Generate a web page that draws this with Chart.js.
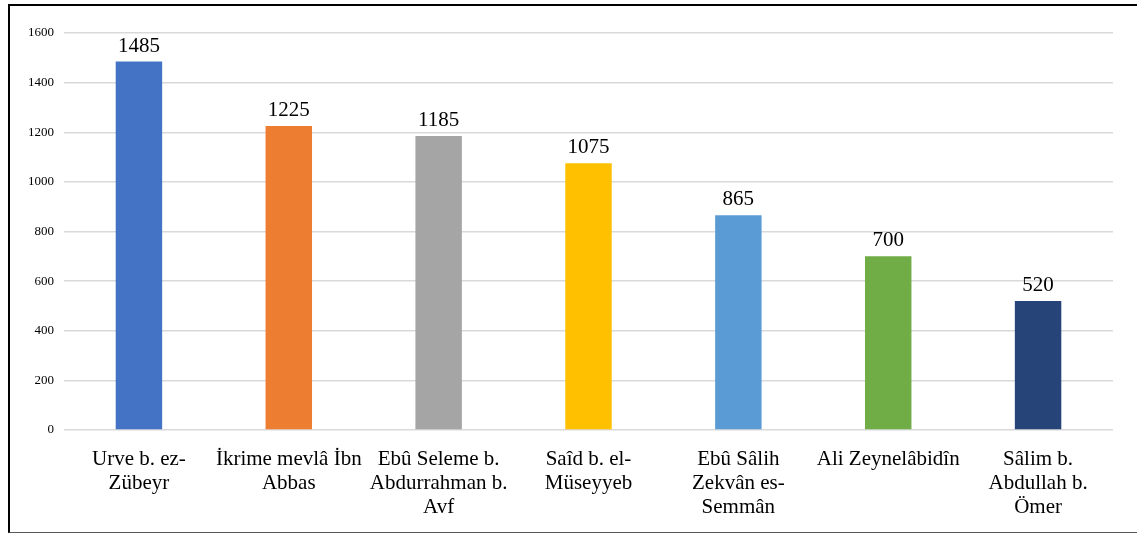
<!DOCTYPE html>
<html>
<head>
<meta charset="utf-8">
<script src="https://cdn.jsdelivr.net/npm/chart.js@4"></script>
<style>
    html, body { margin: 0; padding: 0; background: #fff; }
    #frame {
        position: absolute;
        left: 8px; top: 4px;
        width: 1129px; height: 526px;
        border-top: 2px solid #000;
        border-left: 2px solid #000;
        border-bottom: 1px solid #595959;
    }
    #wrap { position: relative; width: 1127px; height: 526px; }
</style>
</head>
<body>
<div id="frame"><div id="wrap"><canvas id="narratorChart"></canvas></div></div>
<script>
const categories = [
    ['Urve b. ez-', 'Zübeyr'],
    ['İkrime mevlâ İbn', 'Abbas'],
    ['Ebû Seleme b.', 'Abdurrahman b.', 'Avf'],
    ['Saîd b. el-', 'Müseyyeb'],
    ['Ebû Sâlih', 'Zekvân es-', 'Semmân'],
    ['Ali Zeynelâbidîn'],
    ['Sâlim b.', 'Abdullah b.', 'Ömer']
];
const narrationCounts = [1485, 1225, 1185, 1075, 865, 700, 520];
const barColors = ['#4472C4', '#ED7D31', '#A5A5A5', '#FFC000', '#5B9BD5', '#70AD47', '#264478'];

const serif = '"Liberation Serif", "Times New Roman", serif';

// draws the value above each bar
const valueLabels = {
    id: 'valueLabels',
    afterDatasetsDraw(chart) {
        const ctx = chart.ctx;
        const meta = chart.getDatasetMeta(0);
        ctx.save();
        ctx.font = '21px ' + serif;
        ctx.fillStyle = '#000';
        ctx.textAlign = 'center';
        ctx.textBaseline = 'bottom';
        meta.data.forEach((bar, i) => {
            ctx.fillText(chart.data.datasets[0].data[i], bar.x, bar.y - 5);
        });
        ctx.restore();
    }
};

const ctxNarrators = document.getElementById('narratorChart').getContext('2d');
new Chart(ctxNarrators, {
    type: 'bar',
    data: {
        labels: categories,
        datasets: [{
            data: narrationCounts,
            backgroundColor: barColors,
            categoryPercentage: 1,
            barPercentage: 0.31
        }]
    },
    options: {
        responsive: true,
        maintainAspectRatio: false,
        animation: false,
        layout: {
            padding: { top: 27, right: 24, bottom: 0, left: 0 }
        },
        plugins: {
            legend: { display: false },
            tooltip: { enabled: false }
        },
        scales: {
            x: {
                grid: { display: false },
                border: { display: false },
                afterFit: scale => { scale.height = 102; },
                ticks: {
                    maxRotation: 0,
                    autoSkip: false,
                    padding: 9,
                    color: '#000',
                    font: { family: serif, size: 21, lineHeight: 1.15 }
                }
            },
            y: {
                min: 0,
                max: 1600,
                afterFit: scale => { scale.width = 54; },
                grid: { color: '#d9d9d9', lineWidth: 1.5, drawTicks: false },
                border: { display: false },
                ticks: {
                    stepSize: 200,
                    padding: 10,
                    color: '#000',
                    font: { family: serif, size: 13 },
                    callback: value => String(value)
                }
            }
        }
    },
    plugins: [valueLabels]
});
</script>
</body>
</html>
